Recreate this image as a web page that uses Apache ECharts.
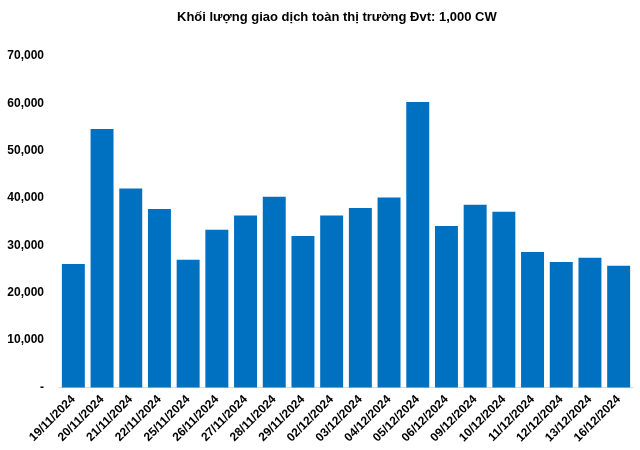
<!DOCTYPE html>
<html><head><meta charset="utf-8">
<script src="https://cdn.jsdelivr.net/npm/echarts@6/dist/echarts.min.js"></script>
<style>html,body{margin:0;padding:0;background:#fff}#c{width:640px;height:450px}</style>
</head><body><div id="c"></div>
<script>
const categories = ["19/11/2024","20/11/2024","21/11/2024","22/11/2024","25/11/2024","26/11/2024","27/11/2024","28/11/2024","29/11/2024","02/12/2024","03/12/2024","04/12/2024","05/12/2024","06/12/2024","09/12/2024","10/12/2024","11/12/2024","12/12/2024","13/12/2024","16/12/2024"];
const volumes = [26100,54600,42000,37700,27000,33300,36300,40300,32000,36300,37900,40100,60300,34100,38600,37100,28600,26500,27400,25700];
const titleText = "Khối lượng giao dịch toàn thị trường Đvt: 1,000 CW";
const font = "Arial, 'Liberation Sans', sans-serif";
const chart = echarts.init(document.getElementById('c'), null, {renderer:'canvas'});
chart.setOption({
  animation:false,
  title:{text:titleText,left:172,top:6,textStyle:{fontFamily:font,fontSize:13,fontWeight:'bold',color:'#000'}},
  grid:{left:59,right:7,top:56,bottom:62.5,containLabel:false},
  xAxis:{type:'category',data:categories,
    axisLine:{lineStyle:{color:'#d9d9d9',width:1}},axisTick:{show:false},
    axisLabel:{rotate:45,interval:0,margin:10,fontFamily:font,fontSize:12,fontWeight:'bold',color:'#000'}},
  yAxis:{type:'value',min:0,max:70000,interval:10000,
    axisLine:{show:false},axisTick:{show:false},splitLine:{show:false},
    axisLabel:{margin:15,fontFamily:font,fontSize:12,fontWeight:'bold',color:'#000',
      formatter:v=>v===0?'-':v.toLocaleString('en-US')}},
  series:[{type:'bar',data:volumes,barCategoryGap:'20%',itemStyle:{color:'#0070C0'}}]
});
</script></body></html>
